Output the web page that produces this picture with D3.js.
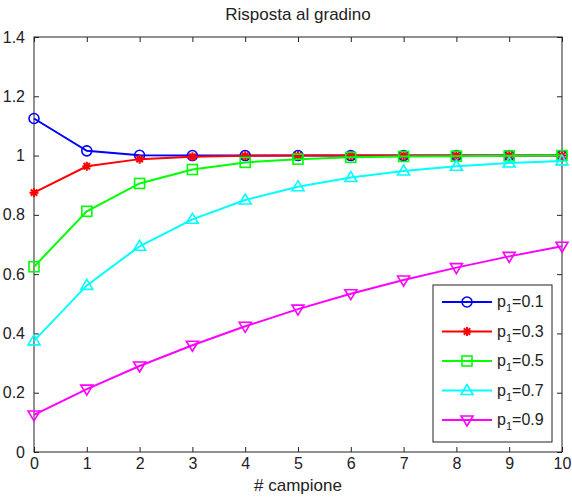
<!DOCTYPE html>
<html>
<head>
<meta charset="utf-8">
<script src="https://cdn.jsdelivr.net/npm/d3@7"></script>
<style>
  body { margin: 0; background: #fff; }
  svg text { font-family: "Liberation Sans", Arial, sans-serif; fill: #222; }
</style>
</head>
<body>
<svg id="chart" width="572" height="498"></svg>
<script>
const samples = [0, 1, 2, 3, 4, 5, 6, 7, 8, 9, 10];
const p1Labels = ["0.1", "0.3", "0.5", "0.7", "0.9"];
const seriesP01 = [1.125, 1.016, 1.001, 1.0, 1.0, 1.0, 1.0, 1.0, 1.0, 1.0, 1.0];
const seriesP03 = [0.875, 0.964, 0.988, 0.996, 0.999, 1.0, 1.0, 1.0, 1.0, 1.0, 1.0];
const seriesP05 = [0.625, 0.812, 0.906, 0.953, 0.977, 0.988, 0.994, 0.997, 0.998, 0.999, 1.0];
const seriesP07 = [0.375, 0.562, 0.694, 0.785, 0.85, 0.895, 0.926, 0.948, 0.964, 0.975, 0.982];
const seriesP09 = [0.125, 0.212, 0.29, 0.36, 0.424, 0.482, 0.534, 0.58, 0.622, 0.66, 0.694];
const xTicks = [0, 1, 2, 3, 4, 5, 6, 7, 8, 9, 10];
const yTicks = [0, 0.2, 0.4, 0.6, 0.8, 1, 1.2, 1.4];

const colors = ["#0000ff", "#ff0000", "#00ff00", "#00ffff", "#ff00ff"];
const markers = ["circle", "star", "square", "triUp", "triDown"];
const allSeries = [seriesP01, seriesP03, seriesP05, seriesP07, seriesP09];

const svg = d3.select("#chart");
const plotL = 34, plotR = 562, plotT = 37, plotB = 452;

const x = d3.scaleLinear().domain([0, 10]).range([plotL, plotR]);
const y = d3.scaleLinear().domain([0, 1.4]).range([plotB, plotT]);

// frame
svg.append("rect")
    .attr("x", plotL).attr("y", plotT)
    .attr("width", plotR - plotL).attr("height", plotB - plotT)
    .attr("fill", "none").attr("stroke", "#222").attr("stroke-width", 1);

// axes, ticks pointing inward like MATLAB
function styleAxis(g, hideText) {
    g.select(".domain").remove();
    g.selectAll(".tick line").attr("stroke", "#222");
    g.selectAll(".tick text")
        .style("font-size", "16px")
        .style("font-family", "'Liberation Sans', Arial, sans-serif")
        .attr("fill", "#222");
    if (hideText) g.selectAll(".tick text").remove();
}

svg.append("g").attr("transform", `translate(0,${plotB})`)
    .call(d3.axisBottom(x).tickValues(xTicks).tickSize(-5).tickPadding(6).tickFormat(d3.format("d")))
    .call(g => styleAxis(g, false));
svg.append("g").attr("transform", `translate(0,${plotT})`)
    .call(d3.axisTop(x).tickValues(xTicks).tickSize(-5))
    .call(g => styleAxis(g, true));
svg.append("g").attr("transform", `translate(${plotL},0)`)
    .call(d3.axisLeft(y).tickValues(yTicks).tickSize(-5).tickPadding(9).tickFormat(d => d === 0 || d === 1 ? d3.format("d")(d) : d3.format(".1f")(d)))
    .call(g => styleAxis(g, false));
svg.append("g").attr("transform", `translate(${plotR},0)`)
    .call(d3.axisRight(y).tickValues(yTicks).tickSize(-5))
    .call(g => styleAxis(g, true));

// marker drawing
function drawMarker(g, type, cx, cy, color) {
    const s = 5;
    if (type === "circle") {
        g.append("circle").attr("cx", cx).attr("cy", cy).attr("r", s)
            .attr("fill", "none").attr("stroke", color).attr("stroke-width", 1.6);
    } else if (type === "square") {
        g.append("rect").attr("x", cx - s).attr("y", cy - s).attr("width", 2 * s).attr("height", 2 * s)
            .attr("fill", "none").attr("stroke", color).attr("stroke-width", 1.6);
    } else if (type === "triUp") {
        g.append("path").attr("d", `M${cx},${cy - s - 1}L${cx + s + 1},${cy + s - 1}L${cx - s - 1},${cy + s - 1}Z`)
            .attr("fill", "none").attr("stroke", color).attr("stroke-width", 1.6);
    } else if (type === "triDown") {
        g.append("path").attr("d", `M${cx},${cy + s + 1}L${cx + s + 1},${cy - s + 1}L${cx - s - 1},${cy - s + 1}Z`)
            .attr("fill", "none").attr("stroke", color).attr("stroke-width", 1.6);
    } else if (type === "star") {
        const r = 4.5, d = 3.2;
        const p = `M${cx - r},${cy}L${cx + r},${cy}M${cx},${cy - r}L${cx},${cy + r}` +
            `M${cx - d},${cy - d}L${cx + d},${cy + d}M${cx - d},${cy + d}L${cx + d},${cy - d}`;
        g.append("path").attr("d", p).attr("stroke", color).attr("stroke-width", 2).attr("fill", "none");
    }
}

const line = d3.line().x((d, i) => x(samples[i])).y(d => y(d));

allSeries.forEach((vals, k) => {
    const g = svg.append("g");
    g.append("path").datum(vals).attr("d", line)
        .attr("fill", "none").attr("stroke", colors[k]).attr("stroke-width", 2);
    vals.forEach((v, i) => drawMarker(g, markers[k], x(samples[i]), y(v), colors[k]));
});

// legend
const lg = svg.append("g");
lg.append("rect").attr("x", 433).attr("y", 285).attr("width", 119).attr("height", 157)
    .attr("fill", "#fff").attr("stroke", "#222").attr("stroke-width", 1);
const legendY = d3.scalePoint().domain(p1Labels).range([302, 420]);
p1Labels.forEach((lab, k) => {
    const yy = legendY(lab);
    lg.append("line").attr("x1", 442).attr("x2", 492).attr("y1", yy).attr("y2", yy)
        .attr("stroke", colors[k]).attr("stroke-width", 2);
    drawMarker(lg, markers[k], 467, yy, colors[k]);
    const t = lg.append("text").attr("x", 497).attr("y", yy + 5).style("font-size", "16px");
    t.append("tspan").text("p");
    t.append("tspan").attr("dy", 5).style("font-size", "11px").text("1");
    t.append("tspan").attr("dy", -5).text("=" + lab);
});

// title and label
svg.append("text").attr("x", (plotL + plotR) / 2).attr("y", 20).attr("text-anchor", "middle")
    .style("font-size", "17px").text("Risposta al gradino");
svg.append("text").attr("x", (plotL + plotR) / 2).attr("y", 491).attr("text-anchor", "middle")
    .style("font-size", "17px").text("# campione");
</script>
</body>
</html>
